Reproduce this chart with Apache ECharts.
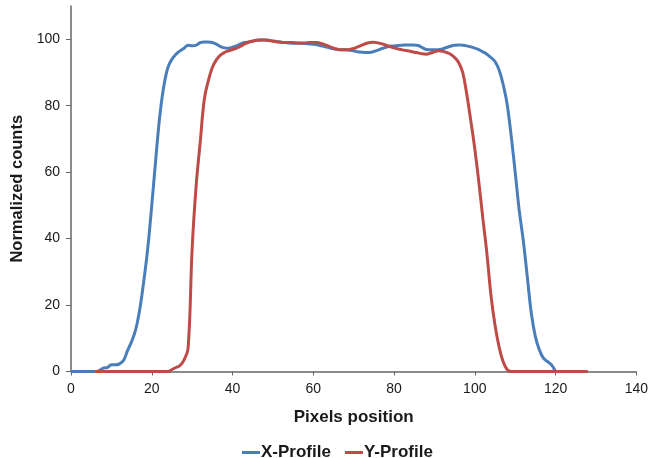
<!DOCTYPE html>
<html>
<head>
<meta charset="utf-8">
<script src="https://cdn.jsdelivr.net/npm/echarts@6/dist/echarts.min.js"></script>
<style>
html,body{margin:0;padding:0;background:#fff;}
#chart{width:651px;height:458px;}
</style>
</head>
<body>
<div id="chart"></div>
<script>
// X-Profile: pixel positions and normalized counts
var xProfilePos = [];
for (var i = 0; i <= 120; i++) xProfilePos.push(i);
var xProfileVal = [
  0,0,0,0,0,0,0,0.3,1,1.2,
  2,2,2.3,3.3,6.3,9,12.5,18.5,27,37,
  50,64,77,86,91.5,94,95.5,96.5,97.3,98.2,
  98,98.2,99,99.2,99.2,99,98.5,97.8,97.4,97.3,
  97.6,98,98.6,99,99.2,99.5,99.7,99.8,99.8,99.7,
  99.5,99.3,99.1,99,98.9,98.8,98.8,98.8,98.7,98.6,
  98.5,98.3,98,97.7,97.4,97.1,96.9,96.8,96.8,96.7,
  96.5,96.2,96.1,96,96,96.3,96.7,97.2,97.6,97.9,
  98,98.1,98.2,98.3,98.3,98.3,98.1,97.5,96.9,96.8,
  96.8,96.8,97.1,97.5,97.9,98.2,98.3,98.2,98,97.7,
  97.3,96.9,96.2,95.5,94.5,93.3,90.8,86.5,80.5,71,
  60,48.5,39.5,28.5,17.5,10.5,6.5,4,3,2,
  0
];
// Y-Profile: pixel positions and normalized counts
var yProfilePos = [];
for (var j = 6; j <= 128; j++) yProfilePos.push(j);
var yProfileVal = [
  0,0,0,0,0,0,0,0,0,0,
  0,0,0,0,0,0,0,0,0,0.6,
  1.2,1.8,3.5,7,37,56,69,81.8,87.5,91.5,
  93.8,95.2,96,96.5,96.9,97.3,97.9,98.6,99.1,99.4,
  99.7,99.8,99.8,99.6,99.4,99.2,99.1,99,99,99,
  98.9,98.9,98.9,99,99,99,98.7,98.3,97.8,97.3,
  97,96.8,96.8,96.9,97.2,97.7,98.2,98.7,99,99.1,
  98.9,98.6,98.2,97.8,97.4,97.1,96.8,96.6,96.4,96.1,
  95.9,95.6,95.5,95.8,96.2,96.5,96.4,96,95.5,94.5,
  93,90,83.5,75.5,67,57,46,35.5,23,14,
  7.5,3,0.6,0,0,0,0,0,0,0,
  0,0,0,0,0,0,0,0,0,0,
  0,0,0
];
var xTicks = [0, 20, 40, 60, 80, 100, 120, 140];
var yTicks = [0, 20, 40, 60, 80, 100];

function pairs(xs, ys) {
  var out = [];
  for (var k = 0; k < xs.length; k++) out.push([xs[k], ys[k]]);
  return out;
}

var chart = echarts.init(document.getElementById('chart'), null, {renderer: 'canvas'});
var font = 'Liberation Sans, Arial, sans-serif';
chart.setOption({
  animation: false,
  backgroundColor: '#ffffff',
  grid: {left: 71, right: 12, top: 6, bottom: 86.5},
  legend: {
    left: 237, top: 439,
    itemWidth: 18, itemHeight: 3, itemGap: 14,
    icon: 'rect',
    textStyle: {fontFamily: font, fontSize: 17, fontWeight: 'bold', color: '#1a1a1a', padding: [0,0,0,-4]},
    data: ['X-Profile', 'Y-Profile']
  },
  xAxis: {
    type: 'value', min: 0, max: 140, interval: 20,
    name: 'Pixels position', nameLocation: 'middle', nameGap: 37,
    nameTextStyle: {fontFamily: font, fontSize: 17, fontWeight: 'bold', color: '#1a1a1a'},
    axisLine: {lineStyle: {color: '#666', width: 1.5}},
    axisTick: {show: true, length: 4, lineStyle: {color: '#666'}},
    axisLabel: {fontFamily: font, fontSize: 14, color: '#1a1a1a', margin: 11, customValues: xTicks},
    splitLine: {show: false}
  },
  yAxis: {
    type: 'value', min: 0, max: 110, interval: 20,
    name: 'Normalized counts', nameLocation: 'middle', nameGap: 40,
    nameTextStyle: {fontFamily: font, fontSize: 16.5, fontWeight: 'bold', color: '#1a1a1a'},
    axisLine: {show: true, lineStyle: {color: '#666', width: 1.5}},
    axisTick: {show: true, length: 5, lineStyle: {color: '#666'}, customValues: yTicks},
    axisLabel: {fontFamily: font, fontSize: 14, color: '#1a1a1a', margin: 11, customValues: yTicks},
    splitLine: {show: false}
  },
  series: [
    {
      name: 'X-Profile', type: 'line', data: pairs(xProfilePos, xProfileVal),
      showSymbol: false, smooth: 0.4, clip: true,
      lineStyle: {color: '#4A7EBB', width: 3}, itemStyle: {color: '#4A7EBB'}
    },
    {
      name: 'Y-Profile', type: 'line', data: pairs(yProfilePos, yProfileVal),
      showSymbol: false, smooth: 0.4, clip: true,
      lineStyle: {color: '#BE4B48', width: 3}, itemStyle: {color: '#BE4B48'}
    }
  ]
});
</script>
</body>
</html>
